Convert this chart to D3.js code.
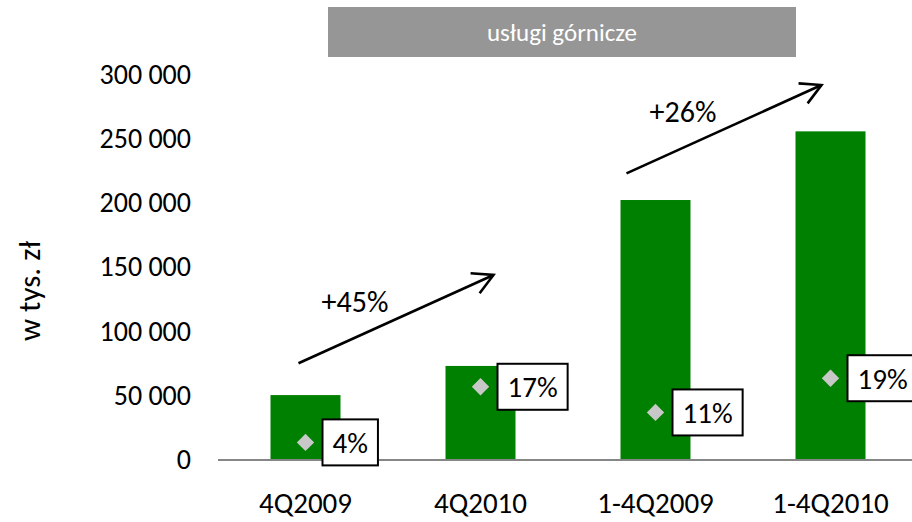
<!DOCTYPE html>
<html>
<head>
<meta charset="utf-8">
<script src="https://cdn.jsdelivr.net/npm/d3@7"></script>
<style>
  html, body { margin: 0; padding: 0; background: #fff; }
  svg { display: block; font-family: Carlito, Lato, "Open Sans", sans-serif; }
</style>
</head>
<body>
<svg id="chart" width="912" height="522"></svg>
<script>
// Revenue of the mining services segment (thousand PLN) and its margin share
const categories = ["4Q2009", "4Q2010", "1-4Q2009", "1-4Q2010"];
const revenue = [50200, 72900, 202200, 255700];
const share = [0.04, 0.17, 0.11, 0.19];
const shareLabels = ["4%", "17%", "11%", "19%"];
const yTicks = [0, 50000, 100000, 150000, 200000, 250000, 300000];
const growth = [
  { from: "4Q2009", to: "4Q2010", label: "+45%" },
  { from: "1-4Q2009", to: "1-4Q2010", label: "+26%" }
];
const title = "usługi górnicze";
const yTitle = "w tys. zł";

const svg = d3.select("#chart");
const W = 912, H = 522;
const FONT = "Carlito, Lato, 'Open Sans', sans-serif";

const x = d3.scaleBand().domain(categories).range([218, 918])
  .paddingInner(0.6).paddingOuter(0.3);
const y = d3.scaleLinear().domain([0, 300000]).range([459.5, 74.5]);
const y2 = d3.scaleLinear().domain([0, 0.9]).range([459.5, 74.5]);

const fmt = d3.formatLocale({ decimal: ",", thousands: "\u00a0", grouping: [3], currency: ["", " zł"] }).format(",d");

// Title banner
const banner = svg.append("g");
banner.append("rect").attr("x", 328).attr("y", 7).attr("width", 468).attr("height", 50)
  .attr("fill", "#969696");
banner.append("text").attr("x", 562).attr("y", 32).attr("dy", "0.35em")
  .attr("text-anchor", "middle").attr("fill", "#fff").attr("font-size", 25)
  .text(title);

// Y axis tick labels (no axis line, no tick marks)
const yAxis = d3.axisLeft(y).tickValues(yTicks).tickFormat(fmt).tickSize(0).tickPadding(0);
const gy = svg.append("g").attr("transform", "translate(191,0)").call(yAxis);
gy.select(".domain").remove();
gy.selectAll("text").attr("font-size", 28).attr("fill", "#000").attr("font-family", FONT);

// Y axis title
svg.append("text")
  .attr("transform", "translate(29,291) rotate(-90)")
  .attr("text-anchor", "middle").attr("dy", "0.35em")
  .attr("font-size", 31).attr("fill", "#000")
  .text(yTitle);

// Bars
svg.append("g").selectAll("rect").data(categories).join("rect")
  .attr("x", d => x(d))
  .attr("y", (d, i) => y(revenue[i]))
  .attr("width", x.bandwidth())
  .attr("height", (d, i) => y(0) - y(revenue[i]))
  .attr("fill", "#008000");

// Category axis
const xAxis = d3.axisBottom(x).tickSize(0).tickPadding(0);
const gx = svg.append("g").attr("transform", `translate(0,${y(0)})`).call(xAxis);
gx.select(".domain").remove();
gx.selectAll("text").attr("font-size", 29).attr("fill", "#000")
  .attr("y", 53.5).attr("dy", 0).attr("font-family", FONT);
svg.append("line").attr("x1", 218).attr("x2", W)
  .attr("y1", y(0) + 0.5).attr("y2", y(0) + 0.5)
  .attr("stroke", "#868686").attr("stroke-width", 2);

// Share markers with boxed labels
const cx = d => x(d) + x.bandwidth() / 2;
const marks = svg.append("g");
marks.selectAll("path").data(categories).join("path")
  .attr("d", d3.symbol(d3.symbolSquare, 150))
  .attr("transform", (d, i) => `translate(${cx(d)},${y2(share[i])}) rotate(45)`)
  .attr("fill", "#c8c8c8");

const lab = marks.selectAll("g.lab").data(categories).join("g").attr("class", "lab")
  .attr("transform", (d, i) => `translate(${cx(d) + 17},${y2(share[i])})`);
lab.append("rect").attr("class", "box");
lab.append("text").attr("x", 10).attr("dy", "0.36em")
  .attr("font-size", 29).attr("fill", "#000")
  .text((d, i) => shareLabels[i]);
lab.each(function () {
  const g = d3.select(this);
  const w = g.select("text").node().getComputedTextLength();
  g.select("rect.box").attr("x", 0).attr("y", -23).attr("width", w + 20).attr("height", 46)
    .attr("fill", "#fff").attr("stroke", "#000").attr("stroke-width", 2);
});

// Growth arrows between periods
const arrowSpec = [
  { dx0: -7, v0: 75000, dx1: 13, v1: 143800 },
  { dx0: -29, v0: 223000, dx1: -9, v1: 291800 }
];
const arrows = svg.append("g");
growth.forEach((g, k) => {
  const s = arrowSpec[k];
  const x0 = cx(g.from) + s.dx0, y0 = y(s.v0);
  const x1 = cx(g.to) + s.dx1, y1 = y(s.v1);
  const ang = Math.atan2(y1 - y0, x1 - x0);
  const len = 23, spread = Math.PI / 6.3;
  const a1 = [x1 - len * Math.cos(ang - spread), y1 - len * Math.sin(ang - spread)];
  const a2 = [x1 - len * Math.cos(ang + spread), y1 - len * Math.sin(ang + spread)];
  arrows.append("line").attr("x1", x0).attr("y1", y0).attr("x2", x1).attr("y2", y1)
    .attr("stroke", "#000").attr("stroke-width", 2.6);
  arrows.append("path").attr("d", d3.line()([a1, [x1, y1], a2]))
    .attr("fill", "none").attr("stroke", "#000").attr("stroke-width", 2.6)
    .attr("stroke-linejoin", "miter");
  arrows.append("text")
    .attr("x", (x0 + x1) / 2 - 41).attr("y", (y0 + y1) / 2 - 18)
    .attr("dy", "0.35em").attr("text-anchor", "middle")
    .attr("font-size", 30).attr("fill", "#000")
    .text(g.label);
});
</script>
</body>
</html>
